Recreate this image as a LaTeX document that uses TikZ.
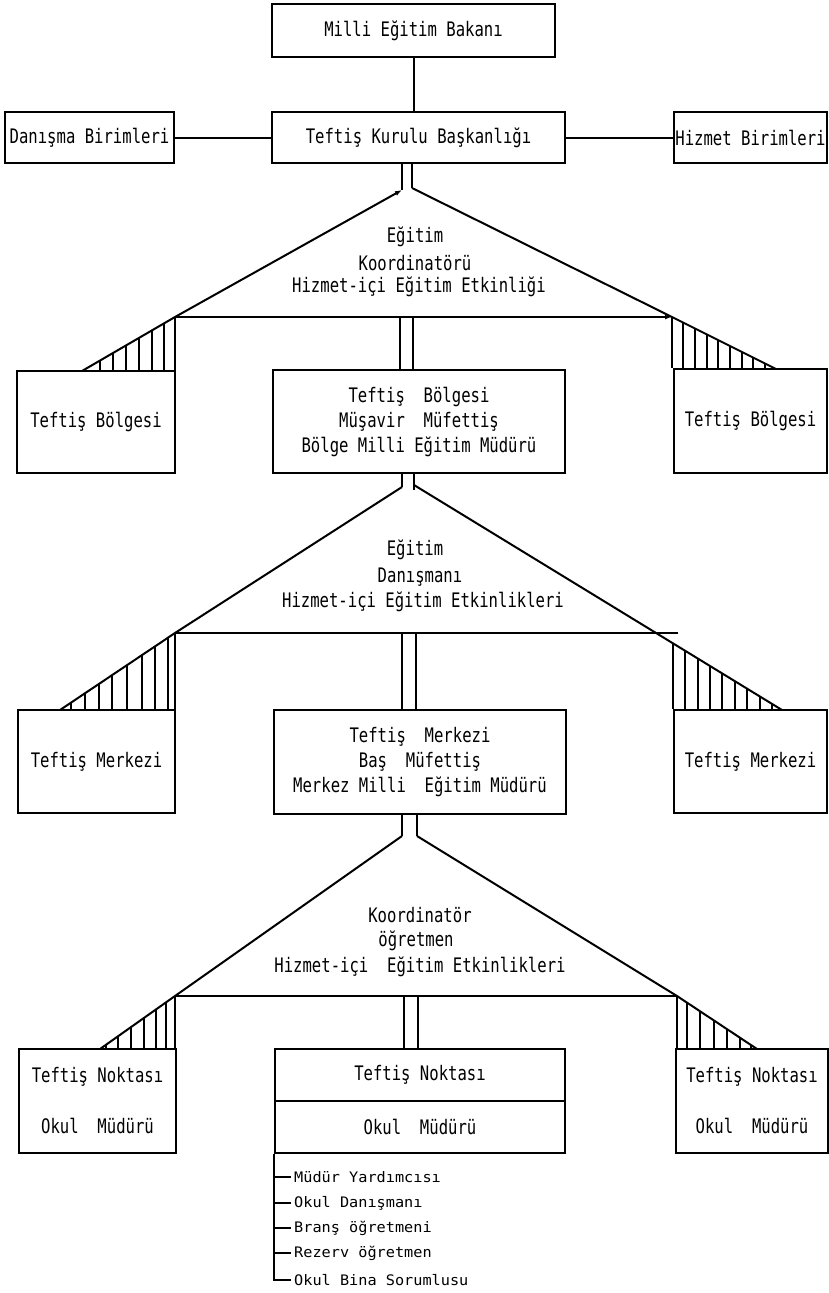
\documentclass[tikz,border=0pt]{standalone}
\usepackage{fontspec}
\newfontfamily\plotfont{DejaVu Sans Mono}[FakeStretch=0.78]
\newfontfamily\listfont{DejaVu Sans Mono}[FakeStretch=1.05]
\usetikzlibrary{arrows.meta,calc}
\begin{document}
\begin{tikzpicture}[x=1pt,y=-1pt,
  txt/.style={font=\plotfont\fontsize{20}{25}\selectfont},
  box/.style={draw, line width=2pt, inner sep=0pt, align=center, txt},
  lbl/.style={inner sep=0pt, txt},
  item/.style={inner sep=3pt, anchor=west, font=\listfont\fontsize{14.5}{16}\selectfont},
  conn/.style={line width=2pt},
  hatch/.style={line width=1.4pt},
  tip/.style={-{Latex[length=7pt,width=5pt]}}
]
\useasboundingbox[fill=white] (0,0) rectangle (829,1293);

% ---------- top level ----------
\node[box, minimum width=283pt, minimum height=53pt] (A) at (413.5,30.5) {Milli Eğitim Bakanı};
\node[box, minimum width=293pt, minimum height=51pt] (B) at (418.5,137.5) {Teftiş Kurulu Başkanlığı};
\node[box, minimum width=169pt, minimum height=51pt] (Dan) at (89.5,137.5) {Danışma Birimleri};
\node[box, minimum width=153pt, minimum height=51pt] (Hiz) at (750.5,137.5) {Hizmet Birimleri};
\draw[conn] (A.south) -- (A.south |- B.north);
\draw[conn] (Dan.east) -- (B.west);
\draw[conn] (B.east) -- (Hiz.west);

% ---------- level 1 ----------
\node[box, minimum width=158pt, minimum height=102pt] (L1) at (96,422) {Teftiş Bölgesi};
\node[box, minimum width=292pt, minimum height=103pt] (C) at (419,421.5)
  {Teftiş\ \ Bölgesi\\Müşavir\ \ Müfettiş\\Bölge Milli Eğitim Müdürü};
\node[box, minimum width=153pt, minimum height=104pt] (R1) at (750.5,421) {Teftiş Bölgesi};

\coordinate (a1l) at (402,190);
\coordinate (a1r) at (412,188);
\coordinate (c1l) at (175,317);
\coordinate (c1r) at (672,317);
\coordinate (b1l) at (82,371);
\coordinate (b1r) at (776,369);
\draw[conn] (a1l |- B.south) -- (a1l);
\draw[conn] (a1r |- B.south) -- (a1r);
\draw[conn, {Latex[length=7pt,width=5pt]}-] (a1l) -- (c1l) -- (b1l);
\draw[conn] (a1r) -- (c1r) -- (b1r);
\draw[conn, tip] (c1l) -- (c1r);
\draw[conn] (c1l) -- (c1l |- L1.north);
\draw[conn] (c1r) -- (c1r |- R1.north);
\coordinate (m1a) at (400,317);
\coordinate (m1b) at (413,317);
\draw[conn] (m1a) -- (m1a |- C.north);
\draw[conn] (m1b) -- (m1b |- C.north);
\begin{scope}
  \clip (c1l) -- (b1l) -- (c1l |- b1l) -- cycle;
  \foreach \x in {100,113,126,139,152,164} \draw[hatch] (\x,300) -- (\x,400);
\end{scope}
\begin{scope}
  \clip (c1r) -- (b1r) -- (c1r |- b1r) -- cycle;
  \foreach \x in {683,695,707,718,730,742,753,765} \draw[hatch] (\x,300) -- (\x,400);
\end{scope}

\node[lbl] (t1a) at (415,237) {Eğitim};
\node[lbl] (t1b) at (415,263) {Koordinatörü};
\node[lbl] (t1c) at (419,287) {Hizmet-içi Eğitim Etkinliği};

% ---------- level 2 ----------
\node[box, minimum width=157pt, minimum height=103pt] (L2) at (96.5,761.5) {Teftiş Merkezi};
\node[box, minimum width=292pt, minimum height=104pt] (D) at (420,762)
  {Teftiş\ \ Merkezi\\Baş\ \ Müfettiş\\Merkez Milli\ \ Eğitim Müdürü};
\node[box, minimum width=153pt, minimum height=103pt] (R2) at (750.5,761.5) {Teftiş Merkezi};

\coordinate (a2l) at (402,487);
\coordinate (a2r) at (414,485);
\coordinate (c2l) at (175,633);
\coordinate (e2r) at (678,633);
\coordinate (b2l) at (60,710);
\coordinate (b2r) at (782,710);
\coordinate (v2r) at (673,643.4);
\draw[conn] (a2l |- C.south) -- (a2l);
\draw[conn] (a2r |- C.south) -- (414,490);
\draw[conn] (a2l) -- (c2l) -- (b2l);
\draw[conn] (a2r) -- (b2r);
\draw[conn] (c2l) -- (e2r);
\draw[conn] (c2l) -- (c2l |- L2.north);
\draw[conn] (v2r) -- (v2r |- R2.north);
\coordinate (m2a) at (402,633);
\coordinate (m2b) at (416,633);
\draw[conn] (m2a) -- (m2a |- D.north);
\draw[conn] (m2b) -- (m2b |- D.north);
\begin{scope}
  \clip (c2l) -- (b2l) -- (c2l |- b2l) -- cycle;
  \foreach \x in {71,85,99,112,127,142,155,168} \draw[hatch] (\x,600) -- (\x,720);
\end{scope}
\begin{scope}
  \clip (v2r) -- (b2r) -- (v2r |- b2r) -- cycle;
  \foreach \x in {685,698,710,722,735,747,760,772} \draw[hatch] (\x,600) -- (\x,720);
\end{scope}

\node[lbl] (t2a) at (415,550) {Eğitim};
\node[lbl] (t2b) at (420,577) {Danışmanı};
\node[lbl] (t2c) at (423,602) {Hizmet-içi Eğitim Etkinlikleri};

% ---------- level 3 ----------
\node[box, minimum width=157pt, minimum height=104pt] (L3) at (97.5,1101)
  {Teftiş Noktası\\[26pt]Okul\ \ Müdürü};
\node[box, minimum width=290pt, minimum height=52pt] (E1) at (420,1075) {Teftiş Noktası};
\node[box, minimum width=290pt, minimum height=52pt] (E2) at (420,1127) {Okul\ \ Müdürü};
\node[box, minimum width=152pt, minimum height=104pt] (R3) at (752,1101)
  {Teftiş Noktası\\[26pt]Okul\ \ Müdürü};

\coordinate (a3l) at (402,836);
\coordinate (a3r) at (417,836);
\coordinate (c3l) at (175,996);
\coordinate (c3r) at (677,996);
\coordinate (b3l) at (100,1049);
\coordinate (b3r) at (757,1049);
\draw[conn] (a3l |- D.south) -- (a3l);
\draw[conn] (a3r |- D.south) -- (a3r);
\draw[conn] (a3l) -- (c3l) -- (b3l);
\draw[conn] (a3r) -- (c3r) -- (b3r);
\draw[conn] (c3l) -- (c3r);
\draw[conn] (c3l) -- (c3l |- L3.north);
\draw[conn] (c3r) -- (c3r |- R3.north);
\coordinate (m3a) at (404,996);
\coordinate (m3b) at (418,996);
\draw[conn] (m3a) -- (m3a |- E1.north);
\draw[conn] (m3b) -- (m3b |- E1.north);
\begin{scope}
  \clip (c3l) -- (b3l) -- (c3l |- b3l) -- cycle;
  \foreach \x in {106,118,131,144,156,166} \draw[hatch] (\x,980) -- (\x,1060);
\end{scope}
\begin{scope}
  \clip (c3r) -- (b3r) -- (c3r |- b3r) -- cycle;
  \foreach \x in {687,700,714,727,740,751} \draw[hatch] (\x,980) -- (\x,1060);
\end{scope}

\node[lbl] (t3a) at (420,915) {Koordinatör};
\node[lbl] (t3b) at (416,941) {öğretmen};
\node[lbl] (t3c) at (420,967) {Hizmet-içi\ \ Eğitim Etkinlikleri};

% ---------- staff list ----------
\node[item] (i1) at (291,1177) {Müdür Yardımcısı};
\node[item] (i2) at (291,1203) {Okul Danışmanı};
\node[item] (i3) at (291,1228) {Branş öğretmeni};
\node[item] (i4) at (291,1253) {Rezerv öğretmen};
\node[item] (i5) at (291,1280) {Okul Bina Sorumlusu};
\draw[conn] (E2.south west) |- (i5.west);
\foreach \i in {i1,i2,i3,i4}
  \draw[conn] (E2.south west |- \i.west) -- (\i.west);
\end{tikzpicture}
\end{document}
